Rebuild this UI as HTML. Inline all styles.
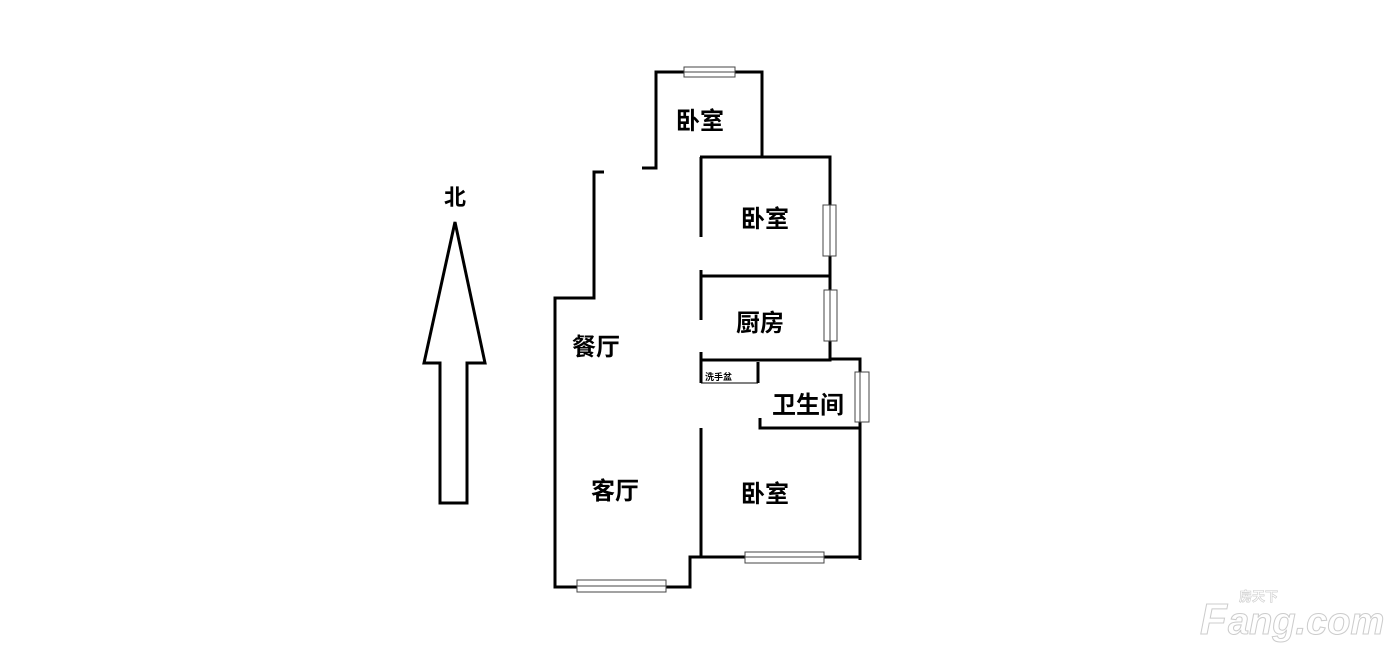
<!DOCTYPE html>
<html><head><meta charset="utf-8"><style>body{margin:0;background:#fff}svg{display:block}text{font-family:"Liberation Sans","Noto Sans CJK SC",sans-serif;font-weight:bold;fill:#000}</style></head><body>
<svg width="1400" height="657" viewBox="0 0 1400 657">
<g stroke="#000" stroke-width="3" fill="none">
<polyline points="642,168 656,168 656,72 762,72 762,157"/>
<polyline points="700,157 830,157 830,360"/>
<line x1="701" y1="157" x2="701" y2="237"/>
<line x1="701" y1="270" x2="701" y2="320"/>
<line x1="701" y1="276" x2="830" y2="276"/>
<polyline points="701,360 830,360 830,359 860,359 860,560"/>
<line x1="701" y1="352" x2="701" y2="383"/>
<line x1="758" y1="362" x2="758" y2="383"/>
<polyline points="760,418 760,428 860,428"/>
<polyline points="701,428 701,557 690,557 690,587 555,587 555,298 594,298 594,172 604,172"/>
<polyline points="701,557 860,557"/>
<polygon points="455,222 485,363 467,363 467,503 440,503 440,363 424,363"/>
</g>
<line x1="701" y1="383" x2="758" y2="383" stroke="#000" stroke-width="1"/>
<g stroke="#444" stroke-width="1" fill="#fff">
<rect x="684" y="67" width="51" height="10"/><line x1="684" y1="72" x2="735" y2="72"/>
<rect x="823" y="205" width="13" height="51"/><line x1="830" y1="205" x2="830" y2="256"/>
<rect x="824" y="290" width="13" height="51"/><line x1="830" y1="290" x2="830" y2="341"/>
<rect x="855" y="372" width="14" height="50"/><line x1="860" y1="372" x2="860" y2="422"/>
<rect x="745" y="552" width="79" height="11"/><line x1="745" y1="557" x2="824" y2="557"/>
<rect x="577" y="580" width="89" height="12"/><line x1="577" y1="586" x2="666" y2="586"/>
</g>
<text x="455" y="205" font-size="22" text-anchor="middle">北</text>
<text x="700" y="129" font-size="24" text-anchor="middle">卧室</text>
<text x="765" y="227" font-size="24" text-anchor="middle">卧室</text>
<text x="760" y="331" font-size="24" text-anchor="middle">厨房</text>
<text x="596" y="355" font-size="24" text-anchor="middle">餐厅</text>
<text x="808" y="413" font-size="24" text-anchor="middle">卫生间</text>
<text x="615" y="499" font-size="24" text-anchor="middle">客厅</text>
<text x="765" y="502" font-size="24" text-anchor="middle">卧室</text>
<text x="705" y="380" font-size="9">洗手盆</text>
<text x="1239" y="601" font-size="13" style="fill:#fff;stroke:#ccc;stroke-width:0.6">房天下</text>
<text x="1200" y="634" font-size="44" style="fill:#fff;stroke:#ccc;stroke-width:1;font-style:italic">F</text>
<text x="1228" y="634" font-size="38" style="fill:#fff;stroke:#ccc;stroke-width:1;font-style:italic">ang.com</text>
</svg>
</body></html>
